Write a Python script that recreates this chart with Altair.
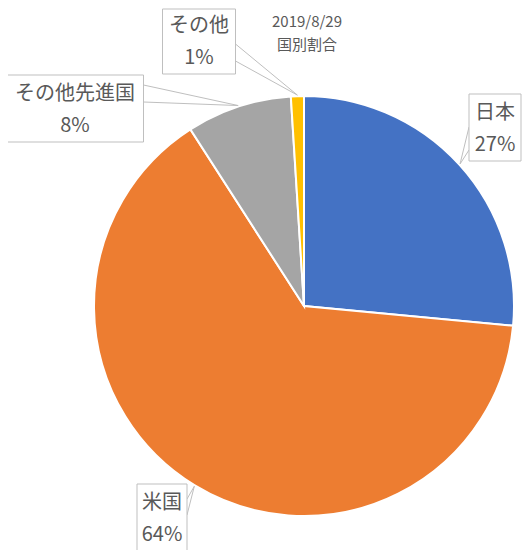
import altair as alt
import pandas as pd
import numpy as np


names = ["日本", "米国", "その他先進国", "その他"]
shares = [26.5, 64.4, 8.1, 1.0]
colors = ["#4472C4", "#ED7D31", "#A5A5A5", "#FFC000"]
title_lines = ["2019/8/29", "国別割合"]

# callout layout, pixels from the pie centre (y up)
label_cx = [191, -142, -229, -105]
label_halfw = [26, 25, 68.5, 36.5]
label_name_y = [193, -197, 212, 280]
pointer_edge = ["left", "right", "right", "right"]
pointer_base = [(179, 156), (-193, -209), (221, 204), (262, 245)]

R = 210
W, H = 514, 542
cx0, cy0 = 296, 298   # pie centre inside the view
xs = alt.Scale(domain=[-cx0, W - cx0])
ys = alt.Scale(domain=[-(H - cy0), cy0])

df = pd.DataFrame({"name": names, "share": shares})
df["end"] = df["share"].cumsum()
df["start"] = df["end"] - df["share"]
df["pct"] = [f"{int(v + 0.5)}%" for v in shares]
mid = (df["start"] + df["share"] / 2) / 100 * 2 * np.pi
df["ax"] = (R + 1) * np.sin(mid)
df["ay"] = (R + 1) * np.cos(mid)

boxes = pd.DataFrame({
    "x0": [c - w for c, w in zip(label_cx, label_halfw)],
    "x1": [c + w for c, w in zip(label_cx, label_halfw)],
    "top": [min(y + 19, cy0 - 1) for y in label_name_y],
    "bottom": [y - 48 for y in label_name_y],
})

rows = []
for i in range(len(names)):
    ex = boxes.x0[i] if pointer_edge[i] == "left" else boxes.x1[i]
    for by in pointer_base[i]:
        rows.append({"x": ex, "y": by, "x2": df.ax[i], "y2": df.ay[i]})
pointers = pd.DataFrame(rows)

texts = pd.DataFrame({
    "x": label_cx * 2,
    "y": label_name_y + [y - 32 for y in label_name_y],
    "t": names + list(df["pct"]),
})

titles = pd.DataFrame({"x": [3, 3], "y": [284, 261], "t": title_lines})

font = "Noto Sans CJK JP"
grey = "#595959"

pie = alt.Chart(df).mark_arc(radius=R, stroke="white", strokeWidth=2).encode(
    x=alt.X(datum=0, type="quantitative", scale=xs, axis=None),
    y=alt.Y(datum=0, type="quantitative", scale=ys, axis=None),
    theta=alt.Theta("start:Q", scale=alt.Scale(domain=[0, 100], range=[0, 2 * np.pi])),
    theta2="end:Q",
    color=alt.Color("name:N", scale=alt.Scale(domain=names, range=colors), legend=None),
)

leaders = alt.Chart(pointers).mark_rule(color="#BFBFBF", strokeWidth=1).encode(
    x=alt.X("x:Q", scale=xs, axis=None),
    y=alt.Y("y:Q", scale=ys, axis=None),
    x2="x2:Q",
    y2="y2:Q",
)

frames = alt.Chart(boxes).mark_rect(fill="white", stroke="#BFBFBF", strokeWidth=1).encode(
    x=alt.X("x0:Q", scale=xs, axis=None),
    x2="x1:Q",
    y=alt.Y("top:Q", scale=ys, axis=None),
    y2="bottom:Q",
)

labels = alt.Chart(texts).mark_text(font=font, fontSize=20, color=grey, baseline="middle").encode(
    x=alt.X("x:Q", scale=xs, axis=None),
    y=alt.Y("y:Q", scale=ys, axis=None),
    text="t:N",
)

title = alt.Chart(titles).mark_text(font=font, fontSize=15, color=grey, baseline="middle").encode(
    x=alt.X("x:Q", scale=xs, axis=None),
    y=alt.Y("y:Q", scale=ys, axis=None),
    text="t:N",
)

chart = alt.layer(pie, leaders, frames, labels, title).properties(
    width=W, height=H, padding=0, autosize="none"
).configure_view(stroke=None)

chart.save("out.html", embed_options={"renderer": "svg", "actions": False})
